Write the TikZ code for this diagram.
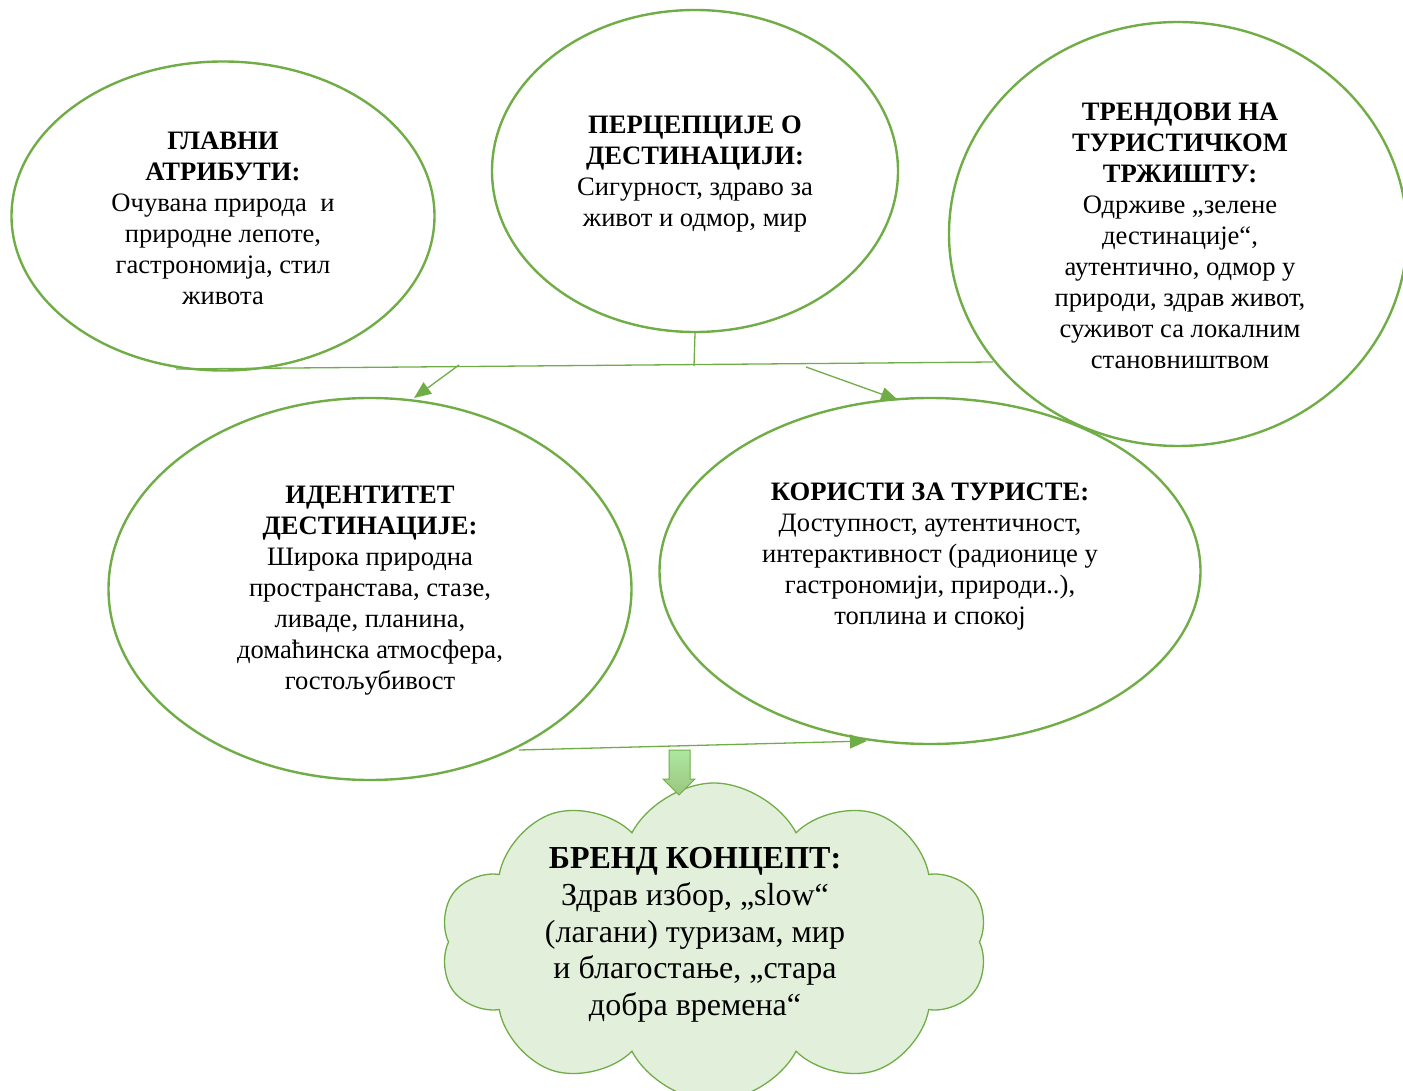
\documentclass[tikz,border=0pt]{standalone}
\usepackage{fontspec}
\setmainfont{Liberation Serif}
\usetikzlibrary{shapes.geometric,shapes.symbols,arrows.meta}
\definecolor{gr}{HTML}{70AD47}
\definecolor{cloudfill}{HTML}{E2EFDA}
\begin{document}
\begin{tikzpicture}[x=1pt,y=-1pt,
  ell/.style={draw=gr,line width=2.4pt,ellipse,inner sep=0pt},
  txt/.style={align=center,font=\fontsize{26.6}{31}\selectfont,inner sep=0pt},
  conn/.style={draw=gr,line width=1.3pt},
  arr/.style={conn,-{Triangle[length=17pt,width=14pt]}}]
\useasboundingbox (0,0) rectangle (1403,1091);
% ellipses
\node[ell,minimum width=423pt,minimum height=309pt] (e1) at (223,216) {};
\node[ell,minimum width=406pt,minimum height=322pt] (e2) at (695,171) {};
\node[ell,minimum width=458pt,minimum height=424pt] (e3) at (1178,234) {};
\node[ell,minimum width=523pt,minimum height=382pt] (e4) at (370,589) {};
\node[ell,minimum width=541pt,minimum height=346pt] (e5) at (930,571) {};
% cloud
\node[cloud,cloud puffs=10,cloud puff arc=125,aspect=1.76,draw=gr,line width=1.3pt,fill=cloudfill,minimum width=548pt,minimum height=318pt,inner sep=0pt] (cl) at (714,942) {};
% texts
\node[txt] (t1) at (223,218) {\textbf{ГЛАВНИ}\\\textbf{АТРИБУТИ:}\\Очувана природа \ и\\природне лепоте,\\гастрономија, стил\\живота};
\node[txt] (t2) at (695,174) {\textbf{ПЕРЦЕПЦИЈЕ О}\\\textbf{ДЕСТИНАЦИЈИ:}\\Сигурност, здраво за\\живот и одмор, мир};
\node[txt] (t3) at (1180,236) {\textbf{ТРЕНДОВИ НА}\\\textbf{ТУРИСТИЧКОМ}\\\textbf{ТРЖИШТУ:}\\Одрживе „зелене\\дестинације“,\\аутентично, одмор у\\природи, здрав живот,\\суживот са локалним\\становништвом};
\node[txt] (t4) at (370,591) {\textbf{ИДЕНТИТЕТ}\\\textbf{ДЕСТИНАЦИЈЕ:}\\Широка природна\\пространстава, стазе,\\ливаде, планина,\\домаћинска атмосфера,\\гостољубивост};
\node[txt] (t5) at (930,557) {\textbf{КОРИСТИ ЗА ТУРИСТЕ:}\\Доступност, аутентичност,\\интерактивност (радионице у\\гастрономији, природи..),\\топлина и спокој};
\node[txt,font=\fontsize{32}{36.8}\selectfont] (t6) at (695,935) {\textbf{БРЕНД КОНЦЕПТ:}\\Здрав избор, „slow“\\(лагани) туризам, мир\\и благостање, „стара\\добра времена“};
% connectors
\coordinate (hl) at (176,369);
\coordinate (hr) at (993,362);
\coordinate (hm) at (694,366);
\coordinate (a1s) at (459,365);
\coordinate (a1e) at (414,398);
\coordinate (a2s) at (806,367);
\coordinate (a2e) at (898,400);
\draw[conn] (hl) -- (hr);
\draw[conn] (e2.south) -- (hm);
\draw[arr] (a1s) -- (a1e);
\draw[arr] (a2s) -- (a2e);
\coordinate (bs) at (519,750);
\coordinate (be) at (867,741);
\draw[arr] (bs) -- (be);
% block arrow
\draw[draw=gr,line width=1pt,top color=green!35!gr!45!white,bottom color=gr!70!white]
  (669,750) -- (690,750) -- (690,779) -- (695,779) -- (679,795) -- (663,779) -- (669,779) -- cycle;
\end{tikzpicture}
\end{document}
